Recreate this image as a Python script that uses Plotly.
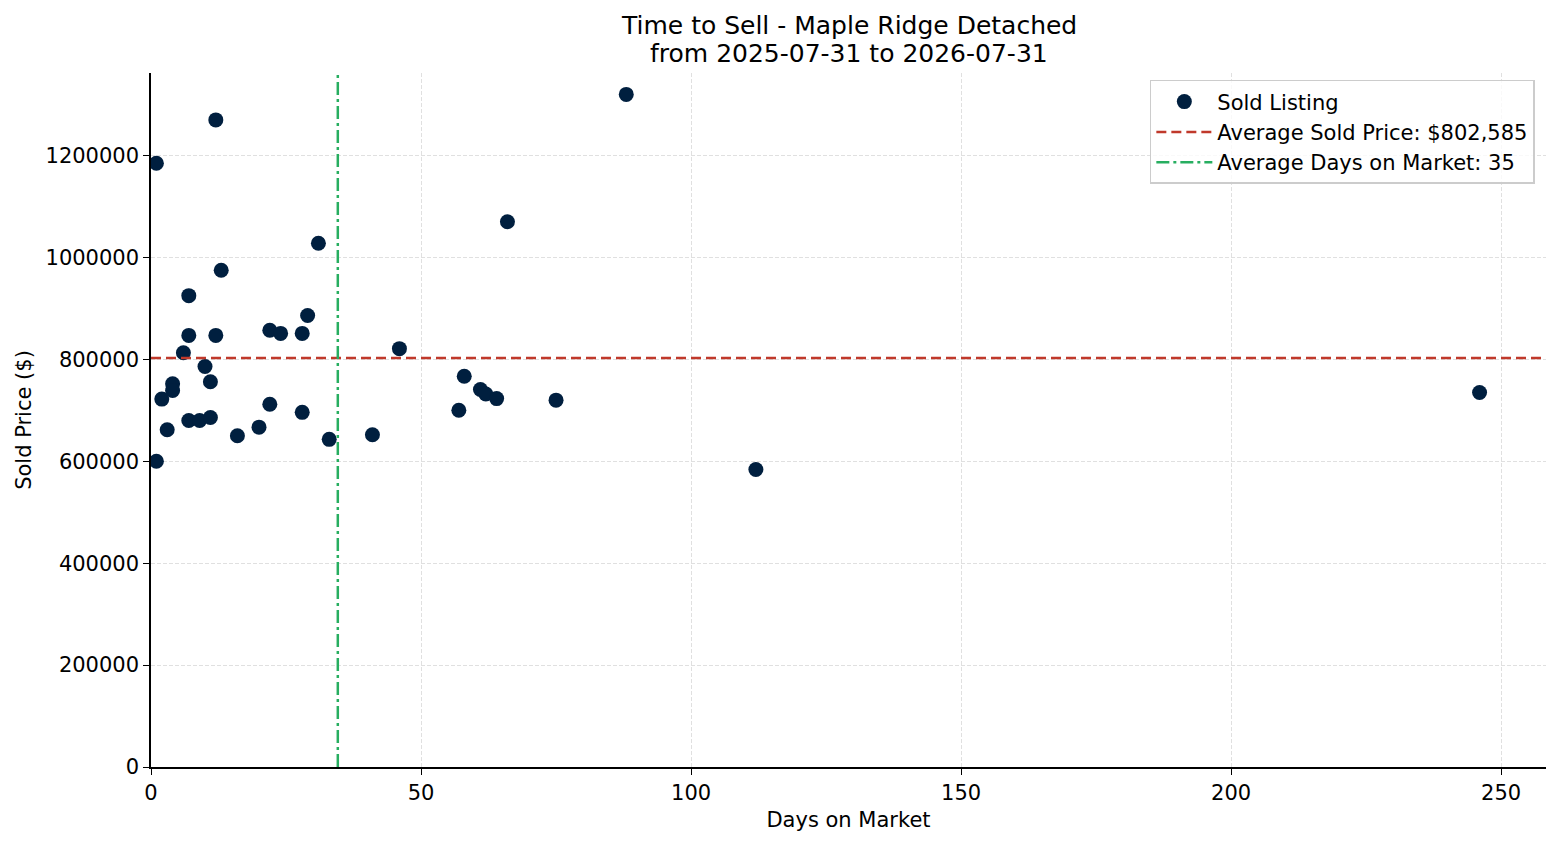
import numpy as np
import plotly.graph_objects as go

title_line1 = "Time to Sell - Maple Ridge Detached"
title_line2 = "from 2025-07-31 to 2026-07-31"

days_on_market = [
    1, 12, 31, 13, 7, 29, 7, 12, 22, 24, 28, 6, 10, 4, 4, 2, 11, 22, 28, 7,
    9, 11, 3, 16, 20, 33, 1, 66, 46, 58, 61, 62, 64, 75, 57, 41, 88, 112, 246,
]
sold_price = [
    1185000, 1270000, 1028000, 975000, 925000, 886000, 847000, 847000,
    857000, 851000, 851000, 813000, 786000, 752000, 739000, 722000,
    756000, 712000, 696000, 680000, 680000, 686000, 662000, 650000,
    667000, 643000, 600000, 1070000, 821000, 767000, 741000, 732000,
    723000, 720000, 700000, 652000, 1320000, 584000, 735000,
]
avg_price = 802585
avg_days = float(np.mean(days_on_market))

FONT = "DejaVu Sans"
x_max = 258.3
y_max = 1362000

fig = go.Figure()

fig.add_trace(
    go.Scatter(
        x=days_on_market, y=sold_price,
        mode='markers', name='Sold Listing',
        marker=dict(color='#001f3f', size=15, line=dict(width=0)),
    )
)
fig.add_trace(
    go.Scatter(
        x=[0, x_max], y=[avg_price, avg_price],
        mode='lines', name=f'Average Sold Price: ${avg_price:,}',
        line=dict(color='#c0392b', width=2.5, dash='10px,5px'),
    )
)
fig.add_trace(
    go.Scatter(
        x=[avg_days, avg_days], y=[0, y_max],
        mode='lines', name=f'Average Days on Market: {round(avg_days)}',
        line=dict(color='#27ae60', width=2.5, dash='13px,4px,3px,4px'),
    )
)

# title lines as two annotations, so the line spacing can be tighter than plotly's
for line, shift in [(title_line1, 48), (title_line2, 20)]:
    fig.add_annotation(
        text=line,
        xref='paper', yref='paper', x=0.5, y=1, xanchor='center', yanchor='middle',
        yshift=shift, showarrow=False,
        font=dict(family=FONT, size=25, color='black'),
    )

axis_common = dict(
    showline=True, linecolor='black', linewidth=1.5,
    ticks='outside', ticklen=6, tickwidth=1.3, tickcolor='black',
    showgrid=True, gridcolor='#e0e0e0', griddash='4px,2px', gridwidth=1,
    zeroline=False, mirror=False, automargin=False,
    tickfont=dict(family=FONT, size=21, color='black'),
)

# the page body has an 8px margin, so the figure is 8px smaller than the window
fig.update_layout(
    width=1552, height=837,
    plot_bgcolor='white', paper_bgcolor='white',
    margin=dict(l=143, r=14, t=65, b=78),
    font=dict(family=FONT, color='black'),
    xaxis=dict(
        title=dict(text='Days on Market', font=dict(family=FONT, size=21), standoff=8),
        range=[0, x_max], tickvals=[0, 50, 100, 150, 200, 250],
        **axis_common,
    ),
    yaxis=dict(
        title=dict(text='Sold Price ($)', font=dict(family=FONT, size=21), standoff=8),
        range=[0, y_max], tickvals=list(range(0, 1400000, 200000)), tickformat='d',
        **axis_common,
    ),
    legend=dict(
        x=0.992, xanchor='right', y=0.99, yanchor='top',
        bgcolor='rgba(255,255,255,0.8)', bordercolor='#cccccc', borderwidth=1.5,
        font=dict(family=FONT, size=21, color='black'),
        tracegroupgap=0, itemwidth=56,
    ),
    showlegend=True,
)

fig.write_html("out.html")
